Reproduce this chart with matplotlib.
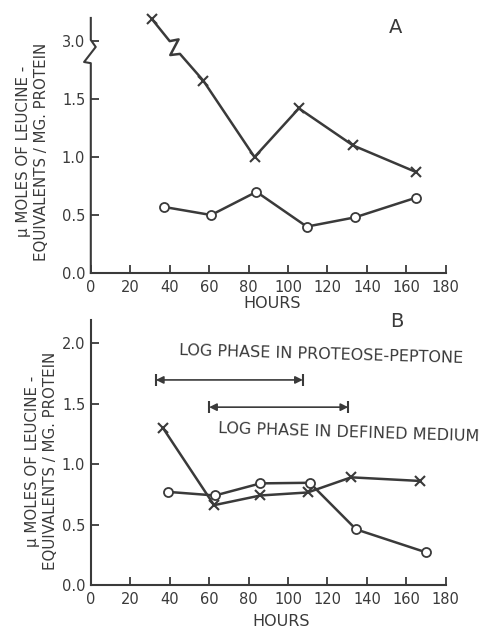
import numpy as np
import matplotlib.pyplot as plt

# ---------------- data ----------------
# panel A (values above the axis break are real values, 3.0 sits at 2.0 on the drawn axis)
hours_a_x = [31, 57, 83, 105.5, 133, 165]
leu_a_x = [3.19, 1.66, 1.00, 1.42, 1.10, 0.87]
hours_a_o = [37, 61, 84, 109.5, 134, 165]
leu_a_o = [0.57, 0.50, 0.70, 0.40, 0.48, 0.65]

# panel B
hours_b_x = [36.5, 62.5, 86, 110, 132, 167]
leu_b_x = [1.30, 0.66, 0.74, 0.765, 0.89, 0.86]
hours_b_o = [39, 63, 86, 111, 134.5, 170]
leu_b_o = [0.77, 0.74, 0.84, 0.845, 0.46, 0.27]

# log phase ranges (hours)
pp_phase = (33, 107.5)
dm_phase = (60, 130.5)

xticks = [0, 20, 40, 60, 80, 100, 120, 140, 160, 180]
yticks_a = [0.0, 0.5, 1.0, 1.5, 3.0]
yticks_b = [0.0, 0.5, 1.0, 1.5, 2.0]

BREAK_LO, BREAK_HI = 2.0, 3.0   # 3.0 drawn where 2.0 would be


def squash(v):
    v = np.asarray(v, dtype=float)
    return np.where(v >= BREAK_HI, v - (BREAK_HI - BREAK_LO), v)


ink = "#3a3a3a"
plt.rcParams["font.family"] = "DejaVu Sans"

fig = plt.figure(figsize=(4.83, 6.30), dpi=100)

# --------------------------------------------------
# PANEL A
# --------------------------------------------------
axA = fig.add_axes([0.188, 0.5667, 0.735, 0.4048])
axA.set_xlim(0, 180)
axA.set_ylim(0, 2.2)

yx = squash(leu_a_x)
# zigzag on the first segment of the x-line
bx, by = 40.0, 2.0
zig = [(0, 0), (4.5, 0.015), (0.3, -0.12), (5.2, -0.11)]
line_x = [hours_a_x[0]] + [bx + dx for dx, dy in zig] + list(hours_a_x[1:])
line_y = [yx[0]] + [by + dy for dx, dy in zig] + list(yx[1:])
axA.plot(line_x, line_y, color=ink, lw=1.8, clip_on=False)
axA.plot(hours_a_x, yx, ls="none", marker="x", ms=7, mew=1.5, color=ink, clip_on=False)
axA.plot(hours_a_o, leu_a_o, color=ink, lw=1.8, marker="o", ms=6.5,
         mfc="white", mew=1.3, clip_on=False)

# broken y axis drawn by hand
axA.spines["left"].set_visible(False)
axA.plot([0, 0, -3.4, 2.5, 0, 0], [0, 1.81, 1.82, 1.95, 2.01, 2.2],
         color=ink, lw=1.5, clip_on=False)
axA.set_yticks(squash(yticks_a))
axA.set_yticklabels([f"{v:.1f}" for v in yticks_a])

# --------------------------------------------------
# PANEL B
# --------------------------------------------------
axB = fig.add_axes([0.188, 0.0714, 0.735, 0.4206])
axB.set_xlim(0, 180)
axB.set_ylim(0, 2.19)

axB.plot(hours_b_x, leu_b_x, color=ink, lw=1.8, marker="x", ms=7, mew=1.5, clip_on=False)
axB.plot(hours_b_o, leu_b_o, color=ink, lw=1.8, marker="o", ms=6.5,
         mfc="white", mew=1.3, clip_on=False)
axB.set_yticks(yticks_b)
axB.set_yticklabels([f"{v:.1f}" for v in yticks_b])

for (x0, x1), yv in [(pp_phase, 1.695), (dm_phase, 1.47)]:
    axB.annotate("", xy=(x0, yv), xytext=(x1, yv),
                 arrowprops=dict(arrowstyle="<|-|>", color=ink, lw=1.2,
                                 mutation_scale=11, shrinkA=0, shrinkB=0))
    axB.plot([x0, x1], [yv, yv], ls="none", marker="|", ms=9, mew=1.5, color=ink)

axB.text(45, 1.935, "LOG PHASE IN PROTEOSE-PEPTONE", fontsize=11.5, color=ink,
         ha="left", va="center", rotation=-1.6, rotation_mode="anchor")
axB.text(64.5, 1.29, "LOG PHASE IN DEFINED MEDIUM", fontsize=11.5, color=ink,
         ha="left", va="center", rotation=-1.8, rotation_mode="anchor")

# --------------------------------------------------
# common styling
# --------------------------------------------------
for ax in (axA, axB):
    ax.spines["top"].set_visible(False)
    ax.spines["right"].set_visible(False)
    for s in ("left", "bottom"):
        ax.spines[s].set_color(ink)
        ax.spines[s].set_linewidth(1.5)
    ax.set_xticks(xticks)
    ax.tick_params(direction="in", length=6, width=1.3, colors=ink,
                   labelsize=10.5, labelcolor=ink)
    ax.tick_params(axis="x", pad=5)
    ax.tick_params(axis="y", pad=4)

ylab = "µ MOLES OF LEUCINE -\nEQUIVALENTS / MG. PROTEIN"
fig.text(0.068, 0.759, ylab, rotation=90, ha="center", va="center",
         multialignment="center", fontsize=10.8, color=ink, linespacing=1.25)
fig.text(0.086, 0.268, ylab, rotation=90, ha="center", va="center",
         multialignment="center", fontsize=10.8, color=ink, linespacing=1.25)

fig.text(0.563, 0.519, "HOURS", ha="center", va="center", fontsize=11.5, color=ink)
fig.text(0.582, 0.013, "HOURS", ha="center", va="center", fontsize=11.5, color=ink)

fig.text(0.818, 0.957, "A", ha="center", va="center", fontsize=14, color=ink)
fig.text(0.822, 0.489, "B", ha="center", va="center", fontsize=14, color=ink)

fig.savefig("out.png", dpi=100)
